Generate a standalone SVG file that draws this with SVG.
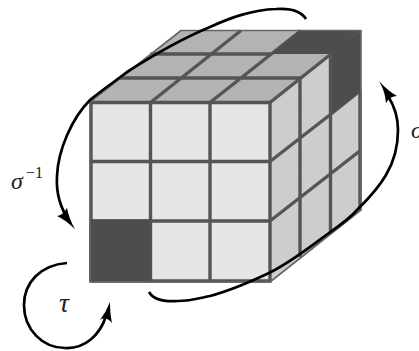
<svg xmlns="http://www.w3.org/2000/svg" width="419" height="351" viewBox="0 0 419 351">
<style>
.g{stroke:#555;stroke-width:3.4;fill:none;stroke-linecap:butt}
.t{stroke:#666;stroke-width:1.6;fill:none;stroke-linejoin:round}
.a{stroke:#000;stroke-width:2.7;fill:none;stroke-linecap:butt}
.h{fill:#000}
.d{fill:#4d4d4d}
text{font-family:"Liberation Serif","DejaVu Serif",serif;font-style:italic;fill:#222}
</style>
<g id="cube">
<polygon points="91,102 270,102 361,30.500 181,30.500" fill="#b3b3b3"/>
<polygon points="91,102 270,102 270,281 91,281" fill="#e6e6e6"/>
<polygon points="270,102 361,30.500 361,210 270,281" fill="#cdcdcd"/>
<path class="g" d="M89.500 102.500H271.500M91 161.500H270M91 221H270M91 281H271.500M91 101V282.500M150.500 101V282.500M210 101V282.500M270 101V282.500"/>
<path class="g" d="M150.500 54H271M120 78H301M150.500 102.500L241 30.500M210 102.500L301 30.500M270 102.500L331 54"/>
<path class="g" d="M300 78V257M330.500 54V233M360 92V210M270 161.500L331 114M331 114L361 90M270 221L361 150"/>
<polygon class="d" points="301,30 361,30 332,54 271,54"/>
<polygon class="d" points="332,53 361,30 361,91 332,114"/>
<rect class="d" x="89.500" y="219.500" width="61" height="62"/>
<polygon class="t" points="90,102 181,30.500 361,30.500 361,210 270,282 90,282"/>
</g>
<g id="connectors">
<path class="a" d="M306 19C301 11 290 8 276 9C252 10 232 17 210 27C186 37 155 54 127 72C114 82 102 90 90 100C72 118 58 150 57 176C56 192 60 208 70 222"/>
<path class="h" d="M75 229Q64 219 57 216Q63 215 67 208Q69 219 75 229Z"/>
<path class="a" d="M149 292C153 299 164 302 178 301C190 301 200 298 210 296C225 292 250 282 269 273C290 263 310 247 329 233C345 222 352 216 359 208C370 197 379 187 386 175C395 160 398 145 398 130C398 118 395 107 388 96"/>
<path class="h" d="M379 81Q388 91 397 96Q390 96 386 103Q385 91 379 81Z"/>
<path class="a" d="M67 263C40 265 24 283 24 305C24 330 43 348 65 348C85 349 100 335 106 316"/>
<path class="h" d="M110 302Q110 314 112 323Q106 316 100 320Q106 312 110 302Z"/>
</g>
<g id="labels">
<text x="11" y="189" font-size="24">σ</text>
<text x="26" y="178" font-size="16" style="font-style:normal">−1</text>
<text x="411" y="138" font-size="24">σ</text>
<text x="59" y="312" font-size="28">τ</text>
</g>
</svg>
